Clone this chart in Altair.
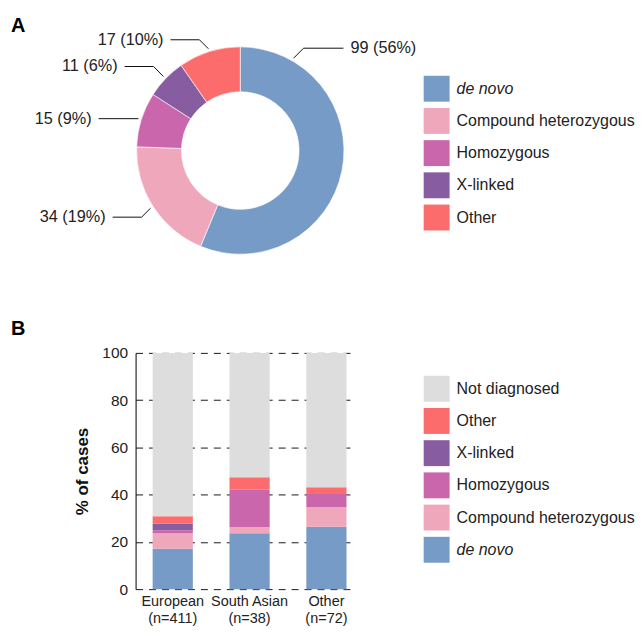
import altair as alt
import numpy as np
import pandas as pd

# ---------------- data ----------------
pie_categories = ["de novo", "Compound heterozygous", "Homozygous", "X-linked", "Other"]
pie_counts = [99, 34, 15, 11, 17]
pie_percents = [56, 19, 9, 6, 10]

bar_groups = ["European", "South Asian", "Other"]
bar_group_n = [411, 38, 72]
bar_categories = ["de novo", "Compound heterozygous", "Homozygous", "X-linked", "Other", "Not diagnosed"]
european = [17.1, 6.6, 1.2, 2.9, 3.0, 69.2]
south_asian = [23.7, 2.6, 15.8, 0.0, 5.3, 52.6]
other_group = [26.4, 8.3, 5.6, 0.0, 2.8, 56.9]

colors = {
    "de novo": "#769BC7",
    "Compound heterozygous": "#EFA7BC",
    "Homozygous": "#CA66AC",
    "X-linked": "#885CA0",
    "Other": "#FC6C6C",
    "Not diagnosed": "#DDDDDD",
}

FONT = "Liberation Sans"
TXT = "#222222"

# ---------------- panel A layout ----------------
WA, HA = 210, 256
R_OUT, R_IN = 104, 59
R_LEAD = 107
label_dy = [-10, 9, 0, -10, -9]
label_len = [40, 29, 40, 29, 29]
anchor_override = {0: 30.0}

pie_df = pd.DataFrame({
    "category": pie_categories,
    "count": pie_counts,
    "rank": list(range(len(pie_categories))),
})

total = sum(pie_counts)
cum = np.cumsum([0] + pie_counts)
cx, cy = WA / 2, HA / 2
line_rows, text_rows = [], []
for i, cat in enumerate(pie_categories):
    start = cum[i] / total * 360
    end = cum[i + 1] / total * 360
    ang = anchor_override.get(i, (start + end) / 2)
    a = np.radians(ang)
    sx = cx + R_LEAD * np.sin(a)
    sy = cy - R_LEAD * np.cos(a)
    sgn = 1 if np.sin(a) > 0 else -1
    ty = sy + label_dy[i]
    ex = sx + sgn * abs(label_dy[i])
    lx = ex + sgn * label_len[i]
    line_rows += [dict(category=cat, k=0, x=sx, y=sy),
                  dict(category=cat, k=1, x=ex, y=ty),
                  dict(category=cat, k=2, x=lx, y=ty)]
    text_rows.append(dict(category=cat, x=lx + sgn * 7, y=ty,
                          side="right" if sgn > 0 else "left",
                          label=f"{pie_counts[i]} ({pie_percents[i]}%)"))
lines_df = pd.DataFrame(line_rows)
texts_df = pd.DataFrame(text_rows)

italic_expr = {"expr": "datum.label == 'de novo' ? 'italic' : 'normal'"}


def make_legend(x, y):
    return alt.Legend(
        title=None, orient="none", legendX=x, legendY=y, padding=0,
        symbolType="square", symbolSize=676, symbolStrokeWidth=0, symbolOpacity=1,
        labelFontSize=16, labelFont=FONT, labelColor=TXT, labelOffset=7,
        rowPadding=6.3, labelFontStyle=italic_expr, labelLimit=400,
    )


xs = alt.Scale(domain=[0, WA], nice=False, zero=False)
ys = alt.Scale(domain=[0, HA], nice=False, zero=False, reverse=True)

arcs = alt.Chart(pie_df).mark_arc(innerRadius=R_IN, outerRadius=R_OUT, stroke="white", strokeWidth=0.6).encode(
    theta=alt.Theta("count:Q", stack=True),
    order=alt.Order("rank:Q", sort="ascending"),
    color=alt.Color("category:N",
                    scale=alt.Scale(domain=pie_categories, range=[colors[c] for c in pie_categories]),
                    legend=make_legend(289, 53)),
)

leaders = alt.Chart(lines_df).mark_line(color="#111111", strokeWidth=1).encode(
    x=alt.X("x:Q", scale=xs, axis=None),
    y=alt.Y("y:Q", scale=ys, axis=None),
    detail="category:N",
    order="k:Q",
)

labels_r = alt.Chart(texts_df).transform_filter("datum.side == 'right'").mark_text(
    align="left", baseline="middle", fontSize=16.3, font=FONT, color=TXT
).encode(x=alt.X("x:Q", scale=xs, axis=None), y=alt.Y("y:Q", scale=ys, axis=None), text="label:N")

labels_l = alt.Chart(texts_df).transform_filter("datum.side == 'left'").mark_text(
    align="right", baseline="middle", fontSize=16.3, font=FONT, color=TXT
).encode(x=alt.X("x:Q", scale=xs, axis=None), y=alt.Y("y:Q", scale=ys, axis=None), text="label:N")

letter_a = alt.Chart(pd.DataFrame({"t": ["A"]})).mark_text(
    align="left", baseline="alphabetic", fontSize=20, fontWeight="bold", font=FONT, color="#000000"
).encode(x=alt.value(-125), y=alt.value(9), text="t:N")

panel_a = alt.layer(arcs, leaders, labels_r, labels_l, letter_a).properties(width=WA, height=HA)

# ---------------- panel B ----------------
bar_rows = []
for g, n, vals in zip(bar_groups, bar_group_n, [european, south_asian, other_group]):
    for r, (c, v) in enumerate(zip(bar_categories, vals)):
        bar_rows.append(dict(group=f"{g}|(n={n})", category=c, pct=v, rank=r))
bar_df = pd.DataFrame(bar_rows)

legend_order_b = list(reversed(bar_categories))

bars = alt.Chart(bar_df).mark_bar(strokeWidth=0).encode(
    x=alt.X("group:N", sort=None,
            scale=alt.Scale(paddingInner=0.477, paddingOuter=0.146, align=0.76),
            axis=alt.Axis(title=None, labelAngle=0, ticks=False, domain=False, grid=False,
                          labelExpr="split(datum.label, '|')", labelFontSize=14.5, labelFont=FONT,
                          labelColor=TXT, labelPadding=5, labelLineHeight=17, labelBaseline="top")),
    y=alt.Y("pct:Q", stack="zero",
            scale=alt.Scale(domain=[0, 100], nice=False),
            axis=alt.Axis(values=[0, 20, 40, 60, 80, 100], grid=True, gridDash=[7, 6],
                          gridColor="#1a1a1a", gridWidth=1, ticks=False, domain=True,
                          domainColor="#000000", domainWidth=1, labelFontSize=15.5, labelFont=FONT,
                          labelColor=TXT, labelPadding=8, title="% of cases", titleFontSize=17,
                          titleFont=FONT, titleFontWeight="bold", titleColor="#111111",
                          titlePadding=10)),
    color=alt.Color("category:N",
                    scale=alt.Scale(domain=legend_order_b, range=[colors[c] for c in legend_order_b]),
                    legend=make_legend(289, 23)),
    order=alt.Order("rank:Q", sort="ascending"),
)

letter_b = alt.Chart(pd.DataFrame({"t": ["B"]})).mark_text(
    align="left", baseline="alphabetic", fontSize=20, fontWeight="bold", font=FONT, color="#000000"
).encode(x=alt.value(-125), y=alt.value(-18), text="t:N")

panel_b = alt.layer(bars, letter_b).properties(width=217, height=237)

chart = alt.vconcat(panel_a, panel_b, spacing=41).resolve_scale(
    color="independent", x="independent", y="independent"
).resolve_legend(color="independent").properties(
    padding={"left": 3, "top": 7, "right": 0, "bottom": 0}
).configure(font=FONT).configure_view(strokeWidth=0, stroke="transparent")

chart.save("out.html", embed_options={"renderer": "svg", "actions": False})
